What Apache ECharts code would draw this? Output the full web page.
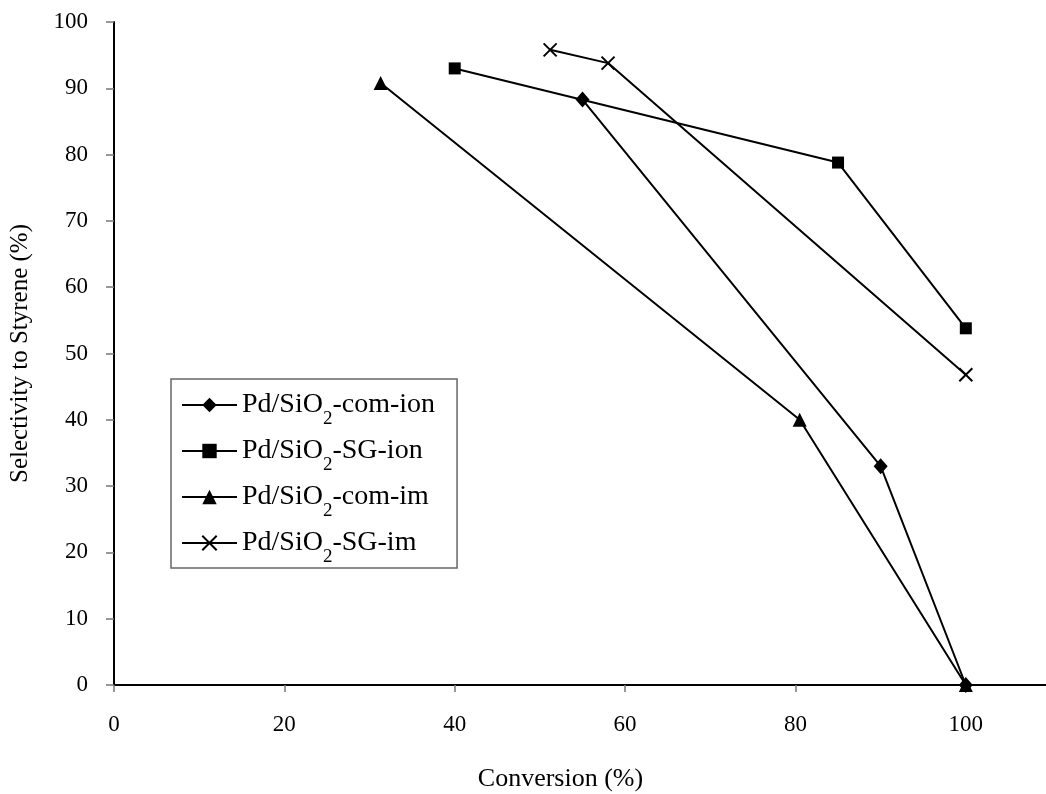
<!DOCTYPE html>
<html>
<head>
<meta charset="utf-8">
<script src="https://cdn.jsdelivr.net/npm/echarts@6/dist/echarts.min.js"></script>
<style>
  html, body { margin: 0; padding: 0; background: #fff; }
  #chart { width: 1046px; height: 794px; }
</style>
</head>
<body>
<div id="chart"></div>
<script>
// Catalyst series: conversion (%) vs. selectivity to styrene (%)
const seriesNames = ['Pd/SiO2-com-ion', 'Pd/SiO2-SG-ion', 'Pd/SiO2-com-im', 'Pd/SiO2-SG-im'];
const comIon = [[55, 88.3], [90, 33], [100, 0]];
const sgIon  = [[40, 93], [85, 78.8], [100, 53.8]];
const comIm  = [[31.3, 90.8], [80.5, 40], [100, 0]];
const sgIm   = [[51.2, 95.8], [58, 93.8], [100, 46.8]];
const xTicks = [0, 20, 40, 60, 80, 100];
const yTicks = [0, 10, 20, 30, 40, 50, 60, 70, 80, 90, 100];

const FONT = '"Liberation Serif", "Times New Roman", serif';
const crossPath = 'path://M0,0L10,10M10,0L0,10';

function lineSeries(name, data, symbol, size, extra) {
  return Object.assign({
    name: name,
    type: 'line',
    data: data,
    symbol: symbol,
    symbolSize: size,
    showSymbol: true,
    lineStyle: { color: '#000', width: 2 },
    itemStyle: { color: '#000' },
    emphasis: { disabled: true },
    z: 3
  }, extra || {});
}

const chart = echarts.init(document.getElementById('chart'), null, { renderer: 'canvas' });

chart.setOption({
  animation: false,
  backgroundColor: '#fff',
  textStyle: { fontFamily: FONT },
  grid: { left: 114, top: 22, bottom: 109, right: -5, containLabel: false, outerBoundsMode: 'none' },
  xAxis: {
    type: 'value',
    min: 0,
    max: 110,
    interval: 20,
    name: 'Conversion (%)',
    nameLocation: 'middle',
    nameGap: 81,
    nameTextStyle: { fontFamily: FONT, fontSize: 26, color: '#000', padding: [0, 44, 0, 0] },
    axisLine: { show: true, lineStyle: { color: '#000', width: 2 } },
    axisTick: { show: true, inside: false, length: 7, lineStyle: { color: '#777', width: 1.5 } },
    axisLabel: {
      fontFamily: FONT, fontSize: 23, color: '#000', margin: 28,
      showMaxLabel: false,
      formatter: v => (xTicks.indexOf(v) >= 0 ? String(v) : '')
    },
    splitLine: { show: false }
  },
  yAxis: {
    type: 'value',
    min: 0,
    max: 100,
    interval: 10,
    name: 'Selectivity to Styrene (%)',
    nameLocation: 'middle',
    nameGap: 81,
    nameRotate: 90,
    nameTextStyle: { fontFamily: FONT, fontSize: 25, color: '#000' },
    axisLine: { show: true, lineStyle: { color: '#000', width: 2 } },
    axisTick: { show: true, inside: false, length: 8, lineStyle: { color: '#777', width: 1.5 } },
    axisLabel: {
      fontFamily: FONT, fontSize: 23, color: '#000', margin: 26,
      formatter: v => (yTicks.indexOf(v) >= 0 ? String(v) : '')
    },
    splitLine: { show: false }
  },
  legend: {
    orient: 'vertical',
    left: 171,
    top: 379,
    padding: [12, 22, 1, 10],
    itemGap: 8,
    itemWidth: 55,
    itemHeight: 18,
    borderColor: '#666',
    borderWidth: 1.5,
    borderRadius: 0,
    backgroundColor: 'rgba(255,255,255,0)',
    lineStyle: { width: 2 },
    data: seriesNames,
    formatter: function (name) {
      const parts = name.split('SiO2');
      return '{t|' + parts[0] + 'SiO}{s|2}{t|' + parts[1] + '}';
    },
    textStyle: {
      fontFamily: FONT,
      color: '#000',
      fontSize: 28,
      rich: {
        t: { fontFamily: FONT, fontSize: 28, color: '#000', verticalAlign: 'bottom', lineHeight: 28 },
        s: { fontFamily: FONT, fontSize: 19, color: '#000', verticalAlign: 'bottom', padding: [0, 0, -10, 0], lineHeight: 28 }
      }
    }
  },
  series: [
    lineSeries(seriesNames[0], comIon, 'diamond', [14, 16]),
    lineSeries(seriesNames[1], sgIon, 'rect', 12),
    lineSeries(seriesNames[2], comIm, 'triangle', 14),
    lineSeries(seriesNames[3], sgIm, crossPath, 13, {
      itemStyle: { color: 'none', borderColor: '#000', borderWidth: 2 }
    })
  ]
});
</script>
</body>
</html>
